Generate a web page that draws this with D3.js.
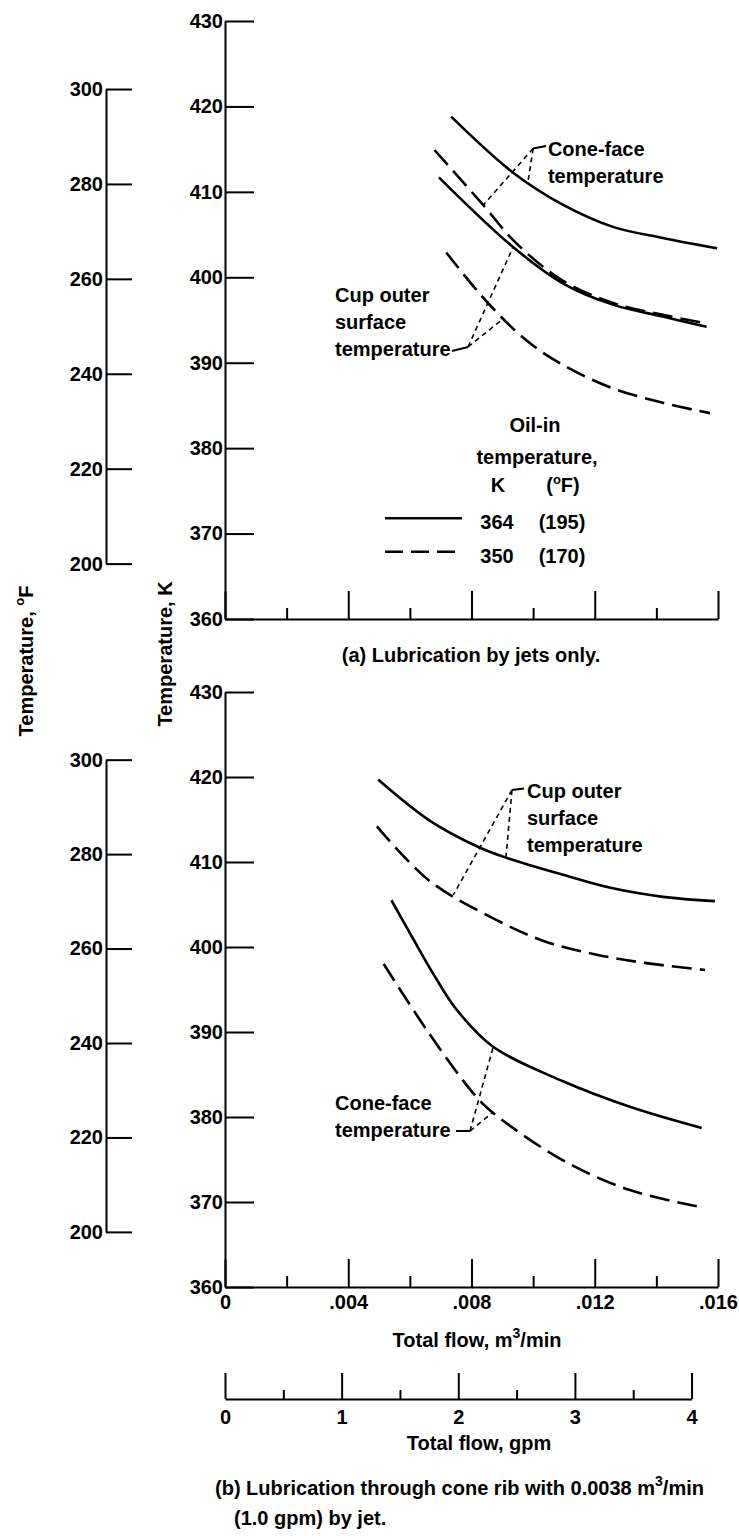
<!DOCTYPE html>
<html><head><meta charset="utf-8">
<script src="https://cdn.jsdelivr.net/npm/d3@7"></script>
<style>
html,body{margin:0;padding:0;background:#fff;}
svg{display:block;background:#fff;}
text{font-family:"Liberation Sans",Arial,sans-serif;font-weight:bold;font-size:20px;fill:#000;}
</style></head><body>
<svg id="chart" width="739" height="1536"></svg>
<script>
// ---------- tick values ----------
const flowTicksMajor = [0, 0.004, 0.008, 0.012, 0.016];
const flowTicksMinor = [0.002, 0.006, 0.010, 0.014];
const kelvinTicks = [360, 370, 380, 390, 400, 410, 420, 430];
const fahrenheitTicks = [200, 220, 240, 260, 280, 300];
const gpmTicksMajor = [0, 1, 2, 3, 4];
const gpmTicksMinor = [0.5, 1.5, 2.5, 3.5];

// ---------- legend ----------
const legendHeader = ["Oil-in", "temperature,"];
const legendRows = [
  {k: "364", f: "(195)", dashed: false},
  {k: "350", f: "(170)", dashed: true}
];

// ---------- data: [total flow m3/min, temperature K] ----------
// (a) Lubrication by jets only
const aConeFace364 = [[0.00734,418.8],[0.00933,412.3],[0.01096,408.5],[0.01259,405.9],[0.01421,404.6],[0.01597,403.4]];
const aConeFace350 = [[0.0068,414.9],[0.00837,408.5],[0.00945,404.0],[0.01096,399.6],[0.01259,397.0],[0.01421,395.6],[0.01563,394.6]];
const aCupOuter364 = [[0.00694,411.7],[0.00933,403.6],[0.01096,399.3],[0.01259,396.8],[0.01421,395.4],[0.01563,394.2]];
const aCupOuter350 = [[0.00718,402.9],[0.00853,397.0],[0.00989,392.3],[0.01119,389.3],[0.01259,387.0],[0.01421,385.3],[0.01574,384.1]];
// (b) Lubrication through cone rib
const bCupOuter364 = [[0.00497,419.7],[0.00663,414.9],[0.00826,411.7],[0.00913,410.5],[0.01097,408.5],[0.01259,406.9],[0.01422,405.9],[0.0159,405.4]];
const bCupOuter350 = [[0.00493,414.2],[0.00663,407.8],[0.0088,403.2],[0.01043,400.6],[0.01206,399.1],[0.01368,398.1],[0.01558,397.3]];
const bConeFace364 = [[0.0054,405.5],[0.0061,401.0],[0.0068,396.6],[0.0075,392.7],[0.00869,388.3],[0.01097,384.2],[0.01314,381.2],[0.01547,378.7]];
const bConeFace350 = [[0.00515,398.0],[0.00663,389.8],[0.00815,382.4],[0.0088,380.2],[0.01097,374.9],[0.01314,371.4],[0.01547,369.4]];

const seriesA = [
  {data: aConeFace364, dashed: false},
  {data: aConeFace350, dashed: true},
  {data: aCupOuter364, dashed: false},
  {data: aCupOuter350, dashed: true}
];
const seriesB = [
  {data: bCupOuter364, dashed: false},
  {data: bCupOuter350, dashed: true},
  {data: bConeFace364, dashed: false},
  {data: bConeFace350, dashed: true}
];

// ---------- annotations (data units) ----------
const annotationsA = [
  {lines: ["Cone-face", "temperature"], text: [0.01048, 414.2], hook: [0.01042, 415.37], vertex: [0.0100, 415.08],
   targets: [[0.008383, 408.46], [0.009843, 411.39]]},
  {lines: ["Cup outer", "surface", "temperature"], text: [0.00357, 397.11], hook: [0.007367, 391.37], vertex: [0.007886, 391.84],
   targets: [[0.009357, 403.58], [0.00898, 395.0]]}
];
const annotationsB = [
  {lines: ["Cup outer", "surface", "temperature"], text: [0.009801, 417.53], hook: [0.009704, 418.65], vertex: [0.009314, 418.47],
   targets: [[0.007409, 406.12], [0.00912, 410.62]]},
  {lines: ["Cone-face", "temperature"], text: [0.00357, 380.82], hook: [0.007497, 378.35], vertex: [0.007951, 378.35],
   targets: [[0.008707, 388.27], [0.008656, 380.44]]}
];
const legendAnchor = [0.005193, 371.8]; // left end of first legend line

// ---------- scales ----------
const svg = d3.select("#chart");
const x = d3.scaleLinear().domain([0, 0.016]).range([225, 718]);
const yA = d3.scaleLinear().domain([360, 430]).range([619, 21]);
const yB = d3.scaleLinear().domain([360, 430]).range([1287, 692]);
const fToK = f => (f + 459.67) * 5 / 9;
const GPM = 0.0037854;
const xg = d3.scaleLinear().domain([0, 4]).range([x(0), x(4 * GPM)]);
const F_AXIS_X = 106;

function styleAxis(g) {
  g.selectAll("path,line").attr("stroke", "#000").attr("stroke-width", 2);
  g.selectAll("text").attr("fill", "#000");
}
const flowFmt = d => d === 0 ? "0" : d3.format(".3f")(d).replace(/^0/, "");

function drawPanel(y, series, annots, withLabels) {
  // K axis
  svg.append("g").attr("transform", `translate(${x(0)},0)`)
    .call(d3.axisLeft(y).tickValues(kelvinTicks).tickSizeInner(-29).tickSizeOuter(0).tickPadding(2).tickFormat(d3.format("d")))
    .call(styleAxis);
  // F axis
  const fy = d3.scaleLinear().domain([200, 300]).range([y(fToK(200)), y(fToK(300))]);
  svg.append("g").attr("transform", `translate(${F_AXIS_X},0)`)
    .call(d3.axisLeft(fy).tickValues(fahrenheitTicks).tickSizeInner(-26).tickSizeOuter(0).tickPadding(3).tickFormat(d3.format("d")))
    .call(styleAxis);
  // flow axis
  svg.append("g").attr("transform", `translate(0,${y(360)})`)
    .call(d3.axisBottom(x).tickValues(flowTicksMajor).tickSizeInner(-28).tickSizeOuter(0).tickPadding(8)
      .tickFormat(withLabels ? flowFmt : () => ""))
    .call(styleAxis);
  const gm = svg.append("g").attr("transform", `translate(0,${y(360)})`)
    .call(d3.axisBottom(x).tickValues(flowTicksMinor).tickSizeInner(-11).tickSizeOuter(0).tickFormat(() => ""))
    .call(styleAxis);
  gm.select(".domain").remove();

  // curves
  const line = d3.line().x(d => x(d[0])).y(d => y(d[1])).curve(d3.curveCatmullRom.alpha(0.5));
  svg.append("g").selectAll("path").data(series).join("path")
    .attr("d", d => line(d.data))
    .attr("fill", "none").attr("stroke", "#000").attr("stroke-width", 2.6)
    .attr("stroke-dasharray", d => d.dashed ? "20,8" : null);

  // annotations
  annots.forEach(a => {
    const g = svg.append("g");
    const t = g.append("text").attr("x", x(a.text[0])).attr("y", y(a.text[1]));
    a.lines.forEach((l, i) => t.append("tspan").attr("x", x(a.text[0])).attr("dy", i === 0 ? 0 : 27).text(l));
    g.append("line").attr("x1", x(a.hook[0])).attr("y1", y(a.hook[1])).attr("x2", x(a.vertex[0])).attr("y2", y(a.vertex[1]))
      .attr("stroke", "#000").attr("stroke-width", 2);
    a.targets.forEach(tp => {
      g.append("line").attr("x1", x(a.vertex[0])).attr("y1", y(a.vertex[1])).attr("x2", x(tp[0])).attr("y2", y(tp[1]))
        .attr("stroke", "#000").attr("stroke-width", 1.6).attr("stroke-dasharray", "5,4");
    });
  });
}

drawPanel(yA, seriesA, annotationsA, false);
drawPanel(yB, seriesB, annotationsB, true);

// legend (panel a)
{
  const lx = x(legendAnchor[0]), ly = yA(legendAnchor[1]);
  const g = svg.append("g").attr("transform", `translate(${lx},${ly})`);
  g.append("text").attr("x", 150).attr("y", -86).attr("text-anchor", "middle").text(legendHeader[0]);
  g.append("text").attr("x", 152).attr("y", -54).attr("text-anchor", "middle").text(legendHeader[1]);
  g.append("text").attr("x", 113).attr("y", -26).attr("text-anchor", "middle").text("K");
  const fh = g.append("text").attr("x", 178).attr("y", -26).attr("text-anchor", "middle");
  fh.append("tspan").text("(");
  fh.append("tspan").attr("font-size", 13).attr("dy", -8).text("o");
  fh.append("tspan").attr("dy", 8).text("F)");
  legendRows.forEach((r, i) => {
    const yy = i * 33.5;
    g.append("line").attr("x1", 0).attr("x2", 77).attr("y1", yy).attr("y2", yy)
      .attr("stroke", "#000").attr("stroke-width", 2.6).attr("stroke-dasharray", r.dashed ? "18,8" : null);
    g.append("text").attr("x", 112).attr("y", yy + 11).attr("text-anchor", "middle").text(r.k);
    g.append("text").attr("x", 177).attr("y", yy + 11).attr("text-anchor", "middle").text(r.f);
  });
}

// gpm axis
{
  const gy = 1399;
  svg.append("g").attr("transform", `translate(0,${gy})`)
    .call(d3.axisBottom(xg).tickValues(gpmTicksMajor).tickSizeInner(-26).tickSizeOuter(0).tickPadding(11).tickFormat(d3.format("d")))
    .call(styleAxis);
  const gm = svg.append("g").attr("transform", `translate(0,${gy})`)
    .call(d3.axisBottom(xg).tickValues(gpmTicksMinor).tickSizeInner(-9).tickSizeOuter(0).tickFormat(() => ""))
    .call(styleAxis);
  gm.select(".domain").remove();
}

// axis titles
svg.append("text").attr("transform", "translate(172,654) rotate(-90)").attr("text-anchor", "middle").text("Temperature, K");
{
  const t = svg.append("text").attr("transform", "translate(33,661) rotate(-90)").attr("text-anchor", "middle");
  t.append("tspan").text("Temperature, ");
  t.append("tspan").attr("font-size", 13).attr("dy", -9).text("o");
  t.append("tspan").attr("dy", 9).text("F");
}
{
  const t = svg.append("text").attr("x", 477).attr("y", 1347).attr("text-anchor", "middle");
  t.append("tspan").text("Total flow,  m");
  t.append("tspan").attr("font-size", 14).attr("dy", -9).text("3");
  t.append("tspan").attr("dy", 9).text("/min");
}
svg.append("text").attr("x", 479).attr("y", 1450).attr("text-anchor", "middle").text("Total flow,  gpm");

// captions
svg.append("text").attr("x", 471).attr("y", 662).attr("text-anchor", "middle").text("(a) Lubrication by jets only.");
{
  const t = svg.append("text").attr("x", 215).attr("y", 1495);
  t.append("tspan").text("(b) Lubrication through cone rib with 0.0038 m");
  t.append("tspan").attr("font-size", 14).attr("dy", -9).text("3");
  t.append("tspan").attr("dy", 9).text("/min");
  svg.append("text").attr("x", 234).attr("y", 1525).text("(1.0 gpm) by jet.");
}
</script>
</body></html>
